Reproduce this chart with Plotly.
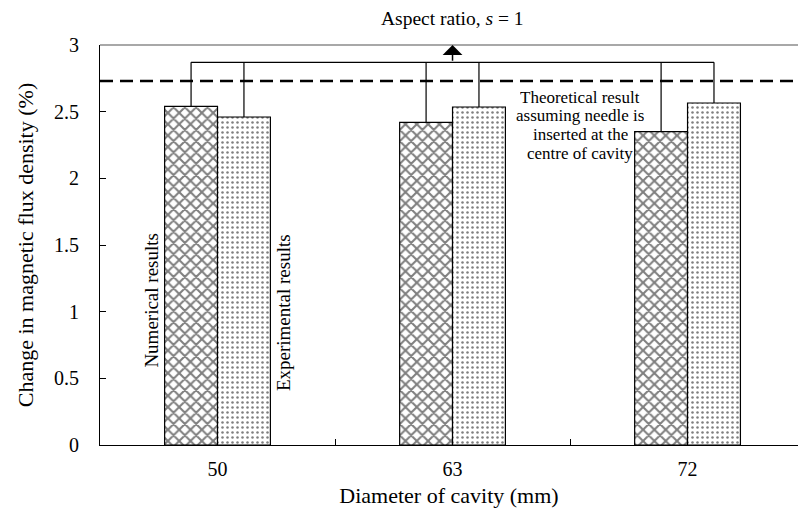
import plotly.graph_objects as go

categories = ["50", "63", "72"]
numerical = [2.54, 2.42, 2.35]
experimental = [2.46, 2.535, 2.565]
theoretical = 2.73
bracket_level = 2.87
y_ticks = [0, 0.5, 1, 1.5, 2, 2.5, 3]
y_ticktext = ["0", "0.5", "1", "1.5", "2", "2.5", "3"]
theory_lines = ["Theoretical result", "assuming needle is", "inserted at the", "centre of cavity"]

FONT = "Times New Roman, Liberation Serif, DejaVu Serif, serif"
bar_w = 0.225  # width of each bar in category units

fig = go.Figure()
fig.add_trace(go.Bar(
    x=categories, y=numerical, name="Numerical results",
    marker=dict(color="white", line=dict(color="black", width=1.2),
                pattern=dict(shape="x", size=8, solidity=0.45, fgcolor="black", bgcolor="white")),
    showlegend=False))
fig.add_trace(go.Bar(
    x=categories, y=experimental, name="Experimental results",
    marker=dict(color="white", line=dict(color="black", width=1.2),
                pattern=dict(shape=".", size=5, solidity=0.2, fgcolor="black", bgcolor="white")),
    showlegend=False))

shapes = []
shapes.append(dict(type="line", xref="paper", x0=0, x1=1, yref="y", y0=theoretical, y1=theoretical,
                   line=dict(color="black", width=2.5, dash="13px,7px")))
shapes.append(dict(type="line", xref="paper", x0=0, x1=1, yref="paper", y0=1, y1=1,
                   line=dict(color="#a8a8a8", width=2)))
for i in range(len(categories)):
    for off, val in ((-bar_w / 2, numerical[i]), (bar_w / 2, experimental[i])):
        shapes.append(dict(type="line", xref="x", x0=i + off, x1=i + off, yref="y",
                           y0=val, y1=bracket_level, line=dict(color="black", width=1.2)))
shapes.append(dict(type="line", xref="x", x0=-bar_w / 2, x1=len(categories) - 1 + bar_w / 2,
                   yref="y", y0=bracket_level, y1=bracket_level, line=dict(color="black", width=1.2)))

annotations = [
    dict(x=1, y=3.0, xref="x", yref="y", ax=1, ay=bracket_level, axref="x", ayref="y",
         showarrow=True, arrowhead=1, arrowsize=2.2, arrowwidth=1.5, arrowcolor="black", text=""),
    dict(x=1, y=1.0675, xref="x", yref="paper", text="Aspect ratio, <i>s</i> = 1",
         showarrow=False, font=dict(family=FONT, size=19.5, color="black"), yanchor="middle"),
    dict(x=-0.279, y=1.09, xref="x", yref="y", text="Numerical results", textangle=-90,
         showarrow=False, font=dict(family=FONT, size=19, color="black")),
    dict(x=0.279, y=0.99, xref="x", yref="y", text="Experimental results", textangle=-90,
         showarrow=False, font=dict(family=FONT, size=19, color="black")),
]
line_y = [2.61, 2.473, 2.33, 2.19]
for txt, yy in zip(theory_lines, line_y):
    annotations.append(dict(x=1.543, y=yy, xref="x", yref="y", text=txt, showarrow=False,
                            yanchor="middle", height=19, valign="middle",
                            font=dict(family=FONT, size=17, color="black")))

fig.update_layout(
    width=798, height=513,
    margin=dict(l=100, r=0, t=45, b=68),
    paper_bgcolor="white", plot_bgcolor="white",
    barmode="group", bargap=0.55, bargroupgap=0,
    font=dict(family=FONT, size=20, color="black"),
    shapes=shapes, annotations=annotations,
    xaxis=dict(type="category", range=[-0.5, 2.47], tickson="boundaries", ticks="inside",
               ticklen=6, tickcolor="black", showline=True, linecolor="black", linewidth=1.2,
               showgrid=False, zeroline=False, ticklabelstandoff=6,
               title=dict(text="Diameter of cavity (mm)", font=dict(family=FONT, size=22), standoff=8)),
    yaxis=dict(range=[0, 3], tickvals=y_ticks, ticktext=y_ticktext, ticks="inside", ticklen=6,
               tickcolor="black", showline=True, linecolor="black", linewidth=1.2,
               showgrid=False, zeroline=False, ticklabelstandoff=16,
               title=dict(text="Change in magnetic flux density (%)", font=dict(family=FONT, size=22),
                          standoff=14)),
)

fig.write_html("out.html")
